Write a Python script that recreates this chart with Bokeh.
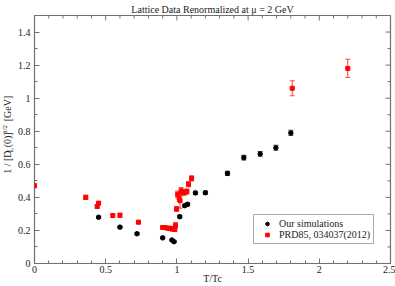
import math
from bokeh.plotting import figure
from bokeh.layouts import row
from bokeh.models import (ColumnDataSource, Whisker, TeeHead, LinearAxis, Range1d,
                          Legend, LegendItem, FixedTicker)
from bokeh.core.properties import value
from bokeh.embed import file_html
from bokeh.resources import INLINE

# ---------------- data ----------------
title_text = "Lattice Data Renormalized at \u03bc = 2 GeV"
x_label = "T/Tc"
legend_sim = "Our simulations"
legend_prd = "PRD85, 034037(2012)"

x_ticks = [0, 0.5, 1, 1.5, 2, 2.5]
x_tick_labels = ["0", "0.5", "1", "1.5", "2", "2.5"]
y_ticks = [0, 0.2, 0.4, 0.6, 0.8, 1.0, 1.2, 1.4]
y_tick_labels = ["0", "0.2", "0.4", "0.6", "0.8", "1", "1.2", "1.4"]
x_minor = [i / 10 for i in range(0, 26) if i % 5]
y_minor = [i / 10 for i in range(1, 16, 2)]

sim_t = [0.45, 0.60, 0.72, 0.90, 0.965, 0.98, 1.02, 1.055, 1.075, 1.13, 1.20,
         1.355, 1.47, 1.585, 1.695, 1.80]
sim_v = [0.280, 0.220, 0.180, 0.155, 0.142, 0.132, 0.283, 0.350, 0.358, 0.427,
         0.428, 0.545, 0.640, 0.663, 0.700, 0.790]
sim_e = [0.006, 0.006, 0.006, 0.005, 0.005, 0.005, 0.008, 0.008, 0.008, 0.010,
         0.010, 0.012, 0.014, 0.014, 0.015, 0.016]

prd_t = [0.00, 0.36, 0.44, 0.45, 0.55, 0.60, 0.73,
         0.90, 0.915, 0.93, 0.945, 0.955, 0.965, 0.975, 0.985, 0.99,
         0.998, 1.005, 1.016, 1.022, 1.03, 1.04, 1.055, 1.07, 1.082, 1.103,
         1.81, 2.20]
prd_v = [0.470, 0.400, 0.345, 0.365, 0.290, 0.292, 0.250,
         0.218, 0.217, 0.215, 0.212, 0.213, 0.208, 0.210, 0.205, 0.230,
         0.330, 0.418, 0.395, 0.380, 0.440, 0.428, 0.430, 0.436, 0.480, 0.515,
         1.060, 1.180]
prd_e = [0.012, 0.012, 0.010, 0.010, 0.010, 0.012, 0.010,
         0.008, 0.008, 0.008, 0.008, 0.008, 0.008, 0.010, 0.010, 0.018,
         0.015, 0.020, 0.020, 0.045, 0.020, 0.018, 0.015, 0.015, 0.015, 0.015,
         0.045, 0.055]

# y-axis label pieces: (text, font size, -1 subscript / +1 superscript)
ylab_pieces = [("1 / [D", "10px", 0), ("L", "8px", -1), ("(0)]", "10px", 0),
               ("1/2", "7px", 1), ("[GeV]", "10px", 0)]

SERIF = "Liberation Serif"
TXT = "#222222"
TICK = "#707070"
FIG_W = 395
FIG_H = 286
YLAB_W = 14
X0, X1, Y0, Y1 = 0.0, 2.5, 0.0, 1.5

# ---------------- main figure ----------------
p = figure(width=FIG_W - YLAB_W, height=FIG_H, output_backend="svg",
           toolbar_location=None,
           x_range=Range1d(X0, X1), y_range=Range1d(Y0, Y1),
           min_border_left=20, min_border_right=5, min_border_top=0,
           min_border_bottom=0, x_axis_location=None, y_axis_location=None,
           title=title_text)
p.title.text_font = SERIF
p.title.text_font_size = "10px"
p.title.text_font_style = "normal"
p.title.text_color = TXT
p.title.align = "center"
p.title.standoff = 2
p.title.offset = 0
p.background_fill_color = "white"
p.border_fill_color = "white"
p.grid.visible = False
p.outline_line_color = TICK
p.outline_line_width = 1.2


def labelled_axis(ticks, minor, labels, standoff, axis_label=None):
    ax = LinearAxis(ticker=FixedTicker(ticks=ticks, minor_ticks=minor))
    ax.major_tick_in = 5
    ax.major_tick_out = 0
    ax.minor_tick_in = 3
    ax.minor_tick_out = 0
    ax.major_tick_line_color = TICK
    ax.minor_tick_line_color = TICK
    ax.axis_line_color = None
    ax.major_label_overrides = {t: l for t, l in zip(ticks, labels)}
    ax.major_label_text_font = SERIF
    ax.major_label_text_font_size = "10px"
    ax.major_label_text_color = TXT
    ax.major_label_standoff = standoff
    if axis_label:
        ax.axis_label = axis_label
        ax.axis_label_text_font = SERIF
        ax.axis_label_text_font_size = "10px"
        ax.axis_label_text_font_style = "normal"
        ax.axis_label_text_color = TXT
        ax.axis_label_standoff = -3
    return ax


p.add_layout(labelled_axis(x_ticks, x_minor, x_tick_labels, 2, x_label), "below")
p.add_layout(labelled_axis(y_ticks, y_minor, y_tick_labels, 4), "left")

# inward ticks on the top and right frame edges, from the same tick lists
PXX = 356 / (X1 - X0)
PXY = 249 / (Y1 - Y0)
p.segment(x0=x_ticks, x1=x_ticks, y0=[Y1] * len(x_ticks),
          y1=[Y1 - 5 / PXY] * len(x_ticks), line_color=TICK, line_width=1)
p.segment(x0=x_minor, x1=x_minor, y0=[Y1] * len(x_minor),
          y1=[Y1 - 3 / PXY] * len(x_minor), line_color=TICK, line_width=1)
p.segment(x0=[X1] * len(y_ticks), x1=[X1 - 5 / PXX] * len(y_ticks),
          y0=y_ticks, y1=y_ticks, line_color=TICK, line_width=1)
p.segment(x0=[X1] * len(y_minor), x1=[X1 - 3 / PXX] * len(y_minor),
          y0=y_minor, y1=y_minor, line_color=TICK, line_width=1)

# ---------------- data marks ----------------
sim_src = ColumnDataSource(dict(t=sim_t, v=sim_v,
                                lo=[v - e for v, e in zip(sim_v, sim_e)],
                                hi=[v + e for v, e in zip(sim_v, sim_e)]))
prd_src = ColumnDataSource(dict(t=prd_t, v=prd_v,
                                lo=[v - e for v, e in zip(prd_v, prd_e)],
                                hi=[v + e for v, e in zip(prd_v, prd_e)]))

for src, col in ((sim_src, "#555555"), (prd_src, "#ff4a4a")):
    p.add_layout(Whisker(source=src, base="t", lower="lo", upper="hi",
                         line_color=col, line_width=1.1,
                         upper_head=TeeHead(size=5, line_color=col, line_width=1.1),
                         lower_head=TeeHead(size=5, line_color=col, line_width=1.1)))

r_sim = p.scatter("t", "v", source=sim_src, marker="circle", size=4.5,
                  fill_color="black", line_color="black")
r_prd = p.scatter("t", "v", source=prd_src, marker="square", size=4,
                  fill_color="#ff0000", line_color="#ff0000")

legend = Legend(items=[LegendItem(label=legend_sim, renderers=[r_sim]),
                       LegendItem(label=legend_prd, renderers=[r_prd])],
                location=(219, 19), label_text_font=SERIF,
                label_text_font_size="10px", label_text_color=TXT,
                glyph_width=20, glyph_height=9, label_height=9,
                label_standoff=2, padding=3, spacing=0, margin=0,
                border_line_color="#555555", border_line_width=1,
                background_fill_alpha=1)
p.add_layout(legend)

# ---------------- y-axis label strip (rotated text with sub/superscript) ----------------
q = figure(width=YLAB_W, height=FIG_H, output_backend="svg", toolbar_location=None,
           x_range=Range1d(0, YLAB_W), y_range=Range1d(0, FIG_H),
           min_border=0, x_axis_location=None, y_axis_location=None)
q.grid.visible = False
q.outline_line_color = None
q.background_fill_color = "white"
q.border_fill_color = "white"

advance = [24.5, 6.0, 15.5, 9.5, 25.5]   # approx. extent of each piece (px)
gaps = [0, 0, 0, 0, 5]
total = sum(advance) + sum(gaps)
centre = 146.5                            # centre of main frame, px from bottom
pos = centre - total / 2
xs, ys, ts, fs = [], [], [], []
for (txt, size, shift), adv, gap in zip(ylab_pieces, advance, gaps):
    pos += gap
    xs.append(7.0 - shift * 3.0)
    ys.append(pos)
    ts.append(txt)
    fs.append(size)
    pos += adv
q.text(x=xs, y=ys, text=ts, angle=math.pi / 2, text_font=value(SERIF),
       text_font_size=fs, text_align="left", text_baseline="middle",
       text_color=TXT)

layout = row(q, p, spacing=0)
open("out.html", "w").write(file_html(layout, INLINE))
